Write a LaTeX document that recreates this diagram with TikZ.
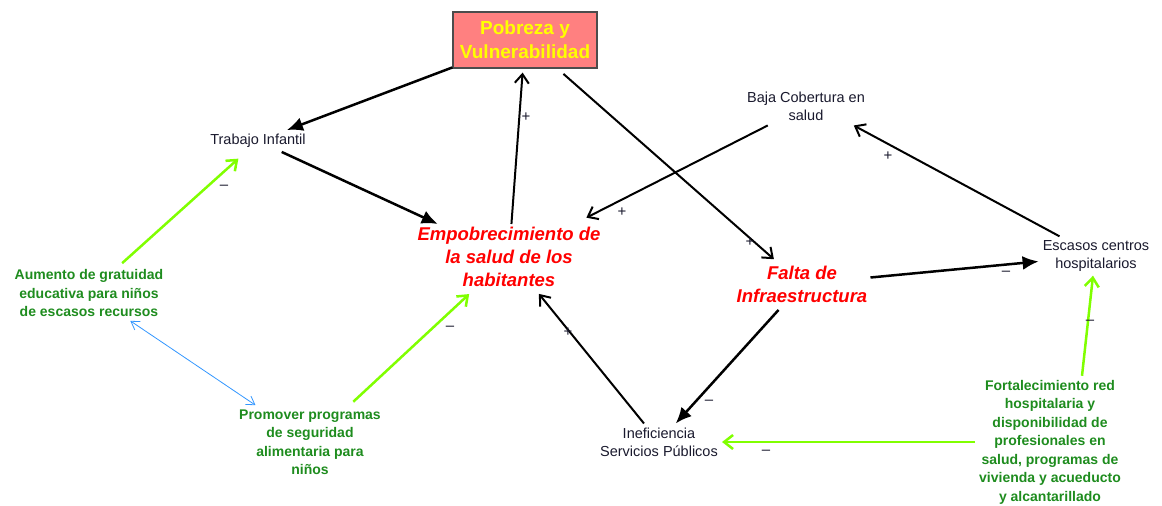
\documentclass[tikz,border=0pt]{standalone}
\usepackage{fontspec}
\setmainfont{Liberation Sans}
\usetikzlibrary{arrows.meta}
\definecolor{boxfill}{RGB}{255,128,128}
\definecolor{titleyellow}{RGB}{255,255,0}
\definecolor{polgreen}{RGB}{30,140,30}
\definecolor{limegr}{RGB}{128,255,0}
\definecolor{linkblue}{RGB}{50,150,255}
\definecolor{txt}{RGB}{25,25,45}
\tikzset{
  var/.style={align=center, text=txt, font=\fontsize{14.5}{18}\selectfont, inner sep=4pt},
  keyvar/.style={align=center, text=red, font=\fontsize{18.5}{23}\selectfont\bfseries\itshape, inner sep=3pt},
  policy/.style={align=center, text=polgreen, font=\fontsize{14}{18.5}\selectfont\bfseries, inner sep=4pt},
  titlebox/.style={draw=black!70, line width=1.2pt, fill=boxfill, text=titleyellow,
    font=\fontsize{19}{24}\selectfont\bfseries, align=center,
    minimum width=144pt, minimum height=56pt, inner sep=0pt},
  sign/.style={font=\fontsize{15}{15}\selectfont, text=txt, inner sep=0pt},
  solidarrow/.style={draw=black, line width=2.5pt, -{Latex[length=16pt,width=14pt]}},
  openarrow/.style={draw=black, line width=2pt, -{Straight Barb[length=9pt,width=14pt]}},
  greenarrow/.style={draw=limegr, line width=2.5pt, -{Straight Barb[length=9pt,width=14pt]}},
  bluearrow/.style={draw=linkblue, line width=0.8pt,
    {Straight Barb[length=8pt,width=10pt]}-{Straight Barb[length=8pt,width=10pt]}}
}
\begin{document}
\begin{tikzpicture}[x=1pt,y=-1pt]
\useasboundingbox (0,0) rectangle (1162,506);

\node[titlebox] (pob) at (525,40) {Pobreza y\\Vulnerabilidad};
\node[var] (trab) at (258,141) {Trabajo Infantil};
\node[keyvar] (emp) at (509,257) {Empobrecimiento de\\la salud de los\\habitantes};
\node[var] (baja) at (806,106) {Baja Cobertura en\\salud};
\node[keyvar] (falta) at (802,284) {Falta de\\Infraestructura};
\node[var] (esc) at (1096,256) {Escasos centros\\hospitalarios};
\node[var] (inef) at (659,442) {Ineficiencia\\Servicios Públicos};
\node[policy] (aum) at (89,293) {Aumento de gratuidad\\educativa para niños\\de escasos recursos};
\node[policy] (prom) at (310,442) {Promover programas\\de seguridad\\alimentaria para\\niños};
\node[policy] (fort) at (1050,442) {Fortalecimiento red\\hospitalaria y\\disponibilidad de\\profesionales en\\salud, programas de\\vivienda y acueducto\\y alcantarillado};

% black links
\draw[solidarrow] (pob) -- (trab);
\draw[solidarrow] (trab) -- (emp);
\draw[openarrow, shorten >=4pt] (emp) -- (pob);
\draw[openarrow, shorten <=8pt, shorten >=5pt] (pob) -- (falta);
\draw[openarrow, shorten <=2pt, shorten >=14pt] (baja) -- (emp);
\draw[openarrow, shorten >=2pt] (esc) -- ([xshift=46pt]baja.south);
\draw[solidarrow] (falta) -- (esc);
\draw[solidarrow, shorten <=6pt] (falta) -- (inef);
\draw[openarrow, shorten >=5pt] (inef) -- (emp);

% green policy links
\draw[greenarrow, shorten <=3pt, shorten >=10pt] (aum) -- (trab);
\draw[greenarrow, shorten <=5pt, shorten >=6pt] (prom) -- (emp);
\draw[greenarrow] (fort) -- (inef);
\draw[greenarrow] ([xshift=32pt]fort.north) -- ([xshift=-3pt]esc.south);

% blue link
\draw[bluearrow] (aum) -- (prom);

% polarity signs
\node[sign] (s1) at (224,187) {–};
\node[sign] (s2) at (526,117) {+};
\node[sign] (s3) at (622,212) {+};
\node[sign] (s4) at (750,242) {+};
\node[sign] (s5) at (888,156) {+};
\node[sign] (s6) at (1006,273) {–};
\node[sign] (s7) at (1090,322) {–};
\node[sign] (s8) at (450,328) {–};
\node[sign] (s9) at (568,332) {+};
\node[sign] (s10) at (709,402) {–};
\node[sign] (s11) at (766,452) {–};
\end{tikzpicture}
\end{document}
